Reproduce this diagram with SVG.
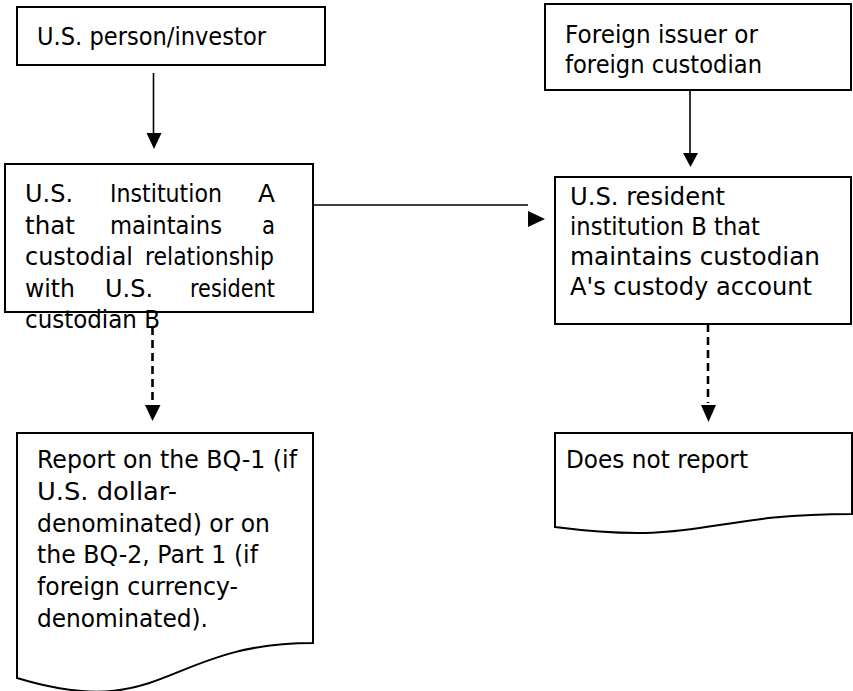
<svg xmlns="http://www.w3.org/2000/svg" width="853" height="691" viewBox="0 0 853 691">
<style>
.box{fill:#fff;stroke:#000;stroke-width:2}
.t{font-family:"DejaVu Sans",Verdana,sans-serif;font-size:25px;fill:#000}
.ln{stroke:#000;stroke-width:1.6;fill:none}
.dash{stroke:#000;stroke-width:2.6;stroke-dasharray:8 5;fill:none}
.head{fill:#000;stroke:none}
</style>
<rect width="853" height="691" fill="#fff"/>
<g id="connectors">
<line class="ln" x1="153.5" y1="73" x2="153.5" y2="135"/>
<polygon class="head" points="146.5,133 161.5,133 154,149"/>
<line class="ln" x1="690" y1="91" x2="690" y2="155"/>
<polygon class="head" points="683,153 698,153 690.5,167"/>
<line class="ln" x1="313" y1="205" x2="528" y2="205"/>
<polygon class="head" points="528,211 545,219 528,227"/>
<line class="dash" x1="152.5" y1="327" x2="152.5" y2="403"/>
<polygon class="head" points="145,405 160.5,405 152.5,421"/>
<line class="dash" x1="708" y1="324" x2="708" y2="403"/>
<polygon class="head" points="701,405 716,405 708.5,422"/>
</g>
<g id="node-us-person">
<rect class="box" x="17" y="7" width="308" height="58"/>
<text class="t" x="37" y="45" textLength="229" lengthAdjust="spacingAndGlyphs">U.S. person/investor</text>
</g>
<g id="node-foreign-issuer">
<rect class="box" x="545" y="4" width="306" height="86"/>
<text class="t" x="565" y="43" textLength="193" lengthAdjust="spacingAndGlyphs">Foreign issuer or</text>
<text class="t" x="565" y="73" textLength="197" lengthAdjust="spacingAndGlyphs">foreign custodian</text>
</g>
<g id="node-institution-a">
<rect class="box" x="5" y="164" width="308" height="148"/>
<text class="t" x="25" y="202" textLength="48" lengthAdjust="spacingAndGlyphs">U.S.</text>
<text class="t" x="110" y="202" textLength="112" lengthAdjust="spacingAndGlyphs">Institution</text>
<text class="t" x="258" y="202" textLength="17" lengthAdjust="spacingAndGlyphs">A</text>
<text class="t" x="25" y="234" textLength="50" lengthAdjust="spacingAndGlyphs">that</text>
<text class="t" x="110" y="234" textLength="112" lengthAdjust="spacingAndGlyphs">maintains</text>
<text class="t" x="262" y="234" textLength="13" lengthAdjust="spacingAndGlyphs">a</text>
<text class="t" x="25" y="265" textLength="108" lengthAdjust="spacingAndGlyphs">custodial</text>
<text class="t" x="145" y="265" textLength="129" lengthAdjust="spacingAndGlyphs">relationship</text>
<text class="t" x="25" y="297" textLength="50" lengthAdjust="spacingAndGlyphs">with</text>
<text class="t" x="105" y="297" textLength="48" lengthAdjust="spacingAndGlyphs">U.S.</text>
<text class="t" x="190" y="297" textLength="85" lengthAdjust="spacingAndGlyphs">resident</text>
<text class="t" x="25" y="328" textLength="135" lengthAdjust="spacingAndGlyphs">custodian B</text>
</g>
<g id="node-institution-b">
<rect class="box" x="555" y="177" width="296" height="147"/>
<text class="t" x="570" y="205" textLength="155" lengthAdjust="spacingAndGlyphs">U.S. resident</text>
<text class="t" x="570" y="235" textLength="190" lengthAdjust="spacingAndGlyphs">institution B that</text>
<text class="t" x="570" y="265" textLength="250" lengthAdjust="spacingAndGlyphs">maintains custodian</text>
<text class="t" x="570" y="295" textLength="242" lengthAdjust="spacingAndGlyphs">A's custody account</text>
</g>
<g id="node-report">
<path class="box" d="M17,433 H313 V643 C165,643 165,723 17,678 Z"/>
<text class="t" x="37" y="468" textLength="260" lengthAdjust="spacingAndGlyphs">Report on the BQ-1 (if</text>
<text class="t" x="37" y="500" textLength="140" lengthAdjust="spacingAndGlyphs">U.S. dollar-</text>
<text class="t" x="37" y="532" textLength="233" lengthAdjust="spacingAndGlyphs">denominated) or on</text>
<text class="t" x="37" y="563" textLength="221" lengthAdjust="spacingAndGlyphs">the BQ-2, Part 1 (if</text>
<text class="t" x="37" y="595" textLength="201" lengthAdjust="spacingAndGlyphs">foreign currency-</text>
<text class="t" x="37" y="627" textLength="171" lengthAdjust="spacingAndGlyphs">denominated).</text>
</g>
<g id="node-does-not-report">
<path class="box" d="M555,433 H852 V514 C703,514 703,546 555,527 Z"/>
<text class="t" x="566" y="468" textLength="182" lengthAdjust="spacingAndGlyphs">Does not report</text>
</g>
</svg>
